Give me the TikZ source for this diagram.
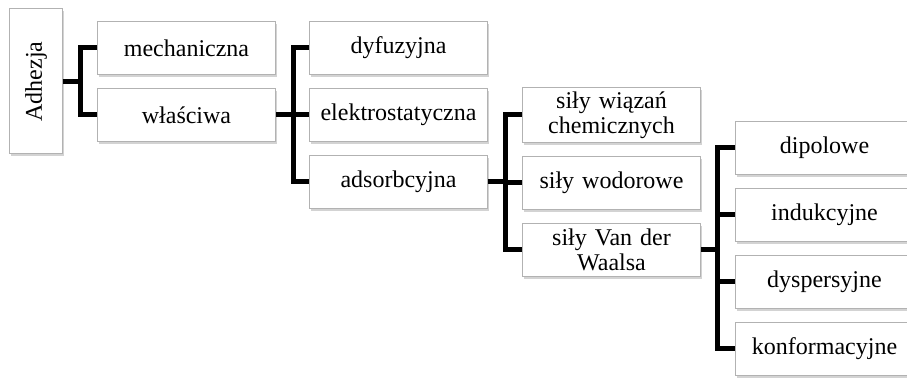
\documentclass[tikz,border=0pt]{standalone}
\usepackage{fontspec}
\setmainfont{Liberation Serif}
\usetikzlibrary{positioning, calc, shadows}

\begin{document}
\begin{tikzpicture}[
    box/.style={
        rectangle,
        draw=gray!60,
        fill=white,
        line width=0.5pt,
        align=center,
        text width=85pt,
        minimum width=89pt,
        minimum height=26.5pt,
        inner sep=2pt,
        font=\fontsize{12}{12.5}\selectfont,
        drop shadow={opacity=0.35, shadow xshift=0.6pt, shadow yshift=-1.2pt}
    },
    rootbox/.style={
        box,
        text width=68pt,
        minimum width=72.5pt,
        rotate=90
    },
    link/.style={line width=2.5pt, line join=miter}
]

    % --- frame of the picture (cut at right and bottom) ---
    \path[use as bounding box] (-48.5pt,10.5pt) rectangle (405pt,-179pt);
    \clip (-48.5pt,10.5pt) rectangle (405pt,-179pt);

    % --- 1) Adhezja and its two kinds ---
    \node[box, anchor=north west] (mech) at (0,0) {mechaniczna};
    \node[box, below=6.5pt of mech] (wlasc) {właściwa};
    \coordinate (mid1) at ($(mech.west)!0.5!(wlasc.west)$);
    \node[rootbox, anchor=south] (adh) at ([xshift=-17pt]mid1) {Adhezja};

    % --- 2) kinds of adhezja właściwa ---
    \node[box, right=16.5pt of mech] (dyf) {dyfuzyjna};
    \node[box, below=6.5pt of dyf] (elek) {elektrostatyczna};
    \node[box, below=6.5pt of elek] (ads) {adsorbcyjna};

    % --- 3) forces of adsorption ---
    \node[box, right=17pt of elek] (chem) {siły wiązań\\chemicznych};
    \node[box, below=6.5pt of chem] (wod) {siły wodorowe};
    \node[box, below=6.5pt of wod] (vdw) {siły Van der\\Waalsa};

    % --- 4) Van der Waals forces ---
    \node[box, right=17pt of vdw, yshift=51pt] (dip) {dipolowe};
    \node[box, below=6.5pt of dip] (ind) {indukcyjne};
    \node[box, below=6.5pt of ind] (dys) {dyspersyjne};
    \node[box, below=6.5pt of dys] (konf) {konformacyjne};

    % --- connectors ---
    \foreach \child in {mech, wlasc}
        \draw[link] (adh.south) -- +(9pt,0) |- (\child.west);
    \foreach \child in {dyf, elek, ads}
        \draw[link] (wlasc.east) -- +(8.5pt,0) |- (\child.west);
    \foreach \child in {chem, wod, vdw}
        \draw[link] (ads.east) -- +(8.5pt,0) |- (\child.west);
    \foreach \child in {dip, ind, dys, konf}
        \draw[link] (vdw.east) -- +(8pt,0) |- (\child.west);

\end{tikzpicture}
\end{document}
